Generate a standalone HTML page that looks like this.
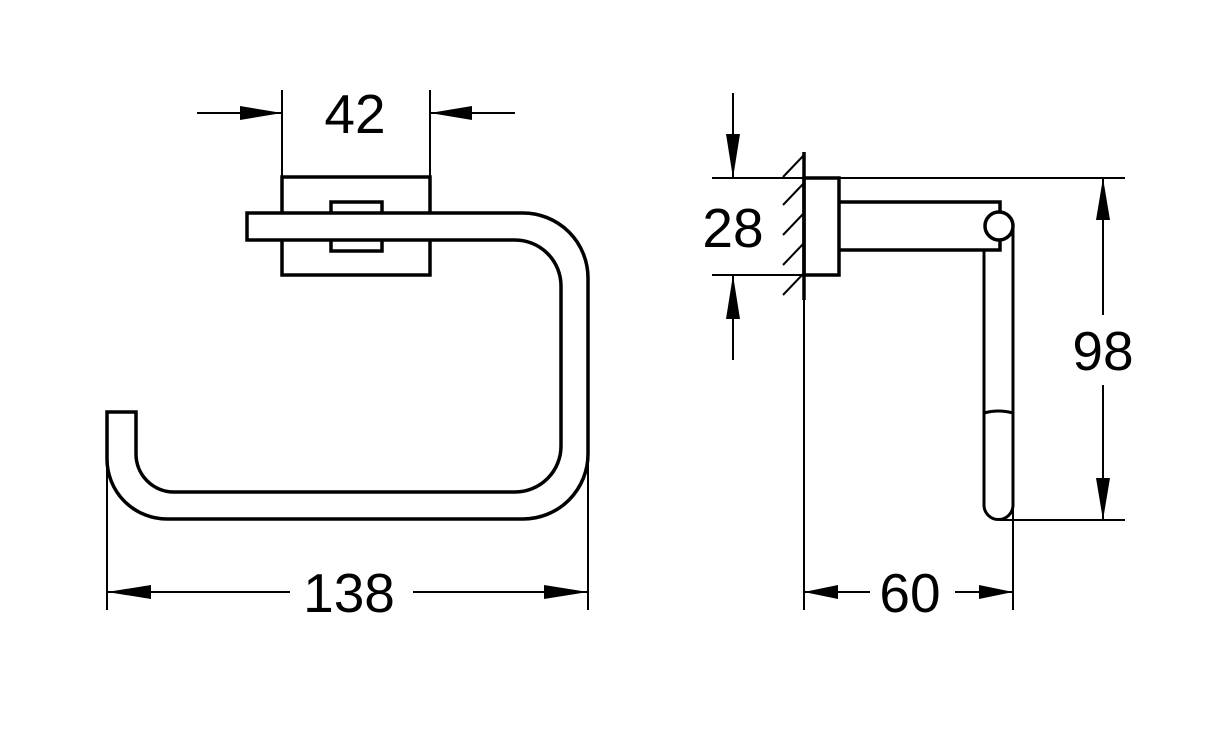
<!DOCTYPE html>
<html><head><meta charset="utf-8"><style>
html,body{margin:0;padding:0;background:#fff;}
svg{display:block;}
text{font-family:"Liberation Sans",Arial,sans-serif;font-size:55px;fill:#000;}
</style></head><body>
<svg width="1205" height="733" viewBox="0 0 1205 733" xmlns="http://www.w3.org/2000/svg">
<g fill="none" stroke="#000">
<!-- Left view -->
<line x1="282" y1="90" x2="282" y2="177" stroke-width="2"/>
<line x1="430" y1="90" x2="430" y2="177" stroke-width="2"/>
<line x1="197" y1="113" x2="282" y2="113" stroke-width="2"/>
<line x1="430" y1="113" x2="515" y2="113" stroke-width="2"/>
<rect x="282" y="177" width="148" height="98" stroke-width="3.5"/>
<rect x="331" y="202" width="51" height="49" stroke-width="3.5"/>
<path d="M247 213 H523 A65 65 0 0 1 588 278 V454 A65 65 0 0 1 523 519 H167 A60 60 0 0 1 107 459 V412 H136 V454 A38 38 0 0 0 174 492 H515 A46 46 0 0 0 561 446 V286 A46 46 0 0 0 515 240 H247 Z" fill="#fff" stroke-width="3.5"/>
<line x1="107" y1="459" x2="107" y2="610" stroke-width="2"/>
<line x1="588" y1="454" x2="588" y2="610" stroke-width="2"/>
<line x1="107" y1="592" x2="290" y2="592" stroke-width="2"/>
<line x1="413" y1="592" x2="588" y2="592" stroke-width="2"/>
<!-- Right view -->
<line x1="804" y1="152" x2="804" y2="300" stroke-width="3.5"/>
<line x1="804" y1="300" x2="804" y2="610" stroke-width="2"/>
<line x1="783" y1="177" x2="804" y2="155" stroke-width="2"/>
<line x1="783" y1="205" x2="804" y2="183" stroke-width="2"/>
<line x1="783" y1="235" x2="804" y2="213" stroke-width="2"/>
<line x1="783" y1="265" x2="804" y2="243" stroke-width="2"/>
<line x1="783" y1="295" x2="804" y2="273" stroke-width="2"/>
<line x1="712" y1="178" x2="1125" y2="178" stroke-width="2"/>
<line x1="712" y1="275" x2="804" y2="275" stroke-width="2"/>
<rect x="804" y="178" width="35" height="97" stroke-width="3.5"/>
<path d="M839 202 H1000 V250 H839" stroke-width="3.5"/>
<path d="M984 250 V505 A14.5 14.5 0 0 0 1013 505 V228" stroke-width="3"/>
<circle cx="999" cy="226" r="14" fill="#fff" stroke-width="3.5"/>
<path d="M984 413 Q998.5 409 1013 413" stroke-width="3"/>
<line x1="1000" y1="520" x2="1125" y2="520" stroke-width="2"/>
<line x1="1013" y1="505" x2="1013" y2="610" stroke-width="2"/>
<line x1="1103" y1="178" x2="1103" y2="315" stroke-width="2"/>
<line x1="1103" y1="385" x2="1103" y2="520" stroke-width="2"/>
<line x1="733" y1="93" x2="733" y2="178" stroke-width="2"/>
<line x1="733" y1="275" x2="733" y2="360" stroke-width="2"/>
<line x1="804" y1="592" x2="870" y2="592" stroke-width="2"/>
<line x1="955" y1="592" x2="1013" y2="592" stroke-width="2"/>
</g>
<g fill="#000">
<polygon points="282,113 240,106 240,120"/>
<polygon points="430,113 472,106 472,120"/>
<polygon points="107,592 151,585 151,599"/>
<polygon points="588,592 544,585 544,599"/>
<polygon points="804,592 838,585 838,599"/>
<polygon points="1013,592 979,585 979,599"/>
<polygon points="733,178 726,134 740,134"/>
<polygon points="733,275 726,319 740,319"/>
<polygon points="1103,178 1096,220 1110,220"/>
<polygon points="1103,520 1096,478 1110,478"/>
</g>
<text x="355" y="133" text-anchor="middle">42</text>
<text x="349" y="612" text-anchor="middle">138</text>
<text x="733" y="247" text-anchor="middle">28</text>
<text x="910" y="612" text-anchor="middle">60</text>
<text x="1103" y="370" text-anchor="middle">98</text>
</svg>
</body></html>
